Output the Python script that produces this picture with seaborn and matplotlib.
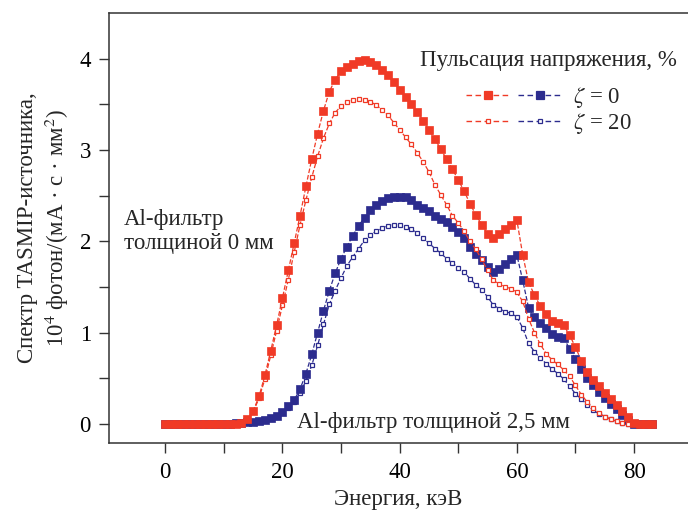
import numpy as np
import pandas as pd
import matplotlib
matplotlib.use("Agg")
import matplotlib.pyplot as plt
import seaborn as sns
from matplotlib.legend_handler import HandlerTuple
from matplotlib.lines import Line2D

energy = list(range(0, 84))

red_zeta0 = [0]*13 + [0.01, 0.05, 0.14, 0.30, 0.53, 0.80, 1.08, 1.38, 1.68, 1.98, 2.28, 2.60, 2.90,
    3.18, 3.43, 3.64, 3.77, 3.86, 3.91, 3.94, 3.97, 3.98, 3.96, 3.93, 3.88, 3.82, 3.74, 3.66, 3.58,
    3.50, 3.42, 3.32, 3.22, 3.12, 3.01, 2.90, 2.79, 2.67, 2.55, 2.41, 2.29, 2.18, 2.08, 2.03, 2.08,
    2.13, 2.18, 2.23, 1.85, 1.55, 1.41, 1.29, 1.20, 1.13, 1.10, 1.08, 0.97, 0.84, 0.69, 0.57, 0.48,
    0.41, 0.34, 0.27, 0.21, 0.14, 0.07, 0.01, 0, 0, 0]

red_zeta20 = [0]*13 + [0.01, 0.04, 0.13, 0.28, 0.49, 0.75, 1.02, 1.30, 1.58, 1.88, 2.18, 2.45, 2.70,
    2.93, 3.13, 3.29, 3.41, 3.48, 3.52, 3.55, 3.56, 3.55, 3.53, 3.49, 3.44, 3.38, 3.30, 3.22, 3.14,
    3.06, 2.97, 2.87, 2.76, 2.62, 2.51, 2.40, 2.28, 2.20, 2.11, 2.00, 1.91, 1.80, 1.68, 1.57, 1.53,
    1.50, 1.48, 1.44, 1.34, 1.15, 1.00, 0.87, 0.77, 0.70, 0.65, 0.59, 0.52, 0.42, 0.32, 0.24, 0.17,
    0.12, 0.08, 0.05, 0.03, 0.01, 0, 0, 0, 0, 0]

blue_zeta0 = [0]*12 + [0.005, 0.01, 0.015, 0.02, 0.03, 0.04, 0.06, 0.09, 0.13, 0.19, 0.26, 0.38,
    0.55, 0.76, 1.00, 1.24, 1.46, 1.65, 1.81, 1.94, 2.06, 2.17, 2.26, 2.34, 2.40, 2.44, 2.47, 2.48,
    2.49, 2.48, 2.45, 2.40, 2.36, 2.33, 2.28, 2.24, 2.21, 2.16, 2.10, 2.03, 1.94, 1.86, 1.79, 1.72,
    1.66, 1.70, 1.75, 1.80, 1.85, 1.57, 1.27, 1.17, 1.10, 1.05, 0.98, 0.95, 0.94, 0.82, 0.71, 0.60,
    0.50, 0.43, 0.35, 0.28, 0.22, 0.16, 0.10, 0.04, 0, 0, 0, 0]

blue_zeta20 = [0]*12 + [0.005, 0.01, 0.015, 0.02, 0.03, 0.04, 0.05, 0.08, 0.12, 0.17, 0.24, 0.34,
    0.47, 0.64, 0.86, 1.09, 1.31, 1.46, 1.60, 1.73, 1.83, 1.92, 2.01, 2.07, 2.11, 2.14, 2.17, 2.18,
    2.18, 2.16, 2.13, 2.09, 2.03, 1.98, 1.92, 1.87, 1.81, 1.76, 1.71, 1.66, 1.59, 1.52, 1.47, 1.39,
    1.30, 1.26, 1.23, 1.21, 1.17, 1.05, 0.88, 0.79, 0.72, 0.66, 0.60, 0.55, 0.49, 0.41, 0.33, 0.27,
    0.21, 0.15, 0.11, 0.08, 0.05, 0.03, 0.01, 0, 0, 0, 0, 0]

x_ticks = [0, 20, 40, 60, 80]
y_ticks = [0, 1, 2, 3, 4]
legend_labels = [r"$\zeta$ = 0", r"$\zeta$ = 20"]

RED = "#f03a26"
BLUE = "#2c2c8e"
FS = 16.5

sns.set_theme(style="ticks")
plt.rcParams["font.family"] = ["Liberation Serif", "DejaVu Serif"]
plt.rcParams["mathtext.fontset"] = "stix"

fig = plt.figure(figsize=(6.88, 5.11), dpi=100)
ax = fig.add_axes([109/688, 1-443/511, 1-109/688, (443-13)/511])

df = pd.DataFrame({"E": energy, "r0": red_zeta0, "r20": red_zeta20,
                   "b0": blue_zeta0, "b20": blue_zeta20})

common = dict(linestyle="--", dashes=(5, 3), linewidth=0.9)
sns.lineplot(data=df, x="E", y="b20", ax=ax, color=BLUE, marker="s", markersize=3.2,
             markerfacecolor="white", markeredgecolor=BLUE, markeredgewidth=0.9, **common)
sns.lineplot(data=df, x="E", y="b0", ax=ax, color=BLUE, marker="s", markersize=5.8,
             markerfacecolor=BLUE, markeredgecolor=BLUE, markeredgewidth=0.5, **common)
sns.lineplot(data=df, x="E", y="r20", ax=ax, color=RED, marker="s", markersize=3.2,
             markerfacecolor="white", markeredgecolor=RED, markeredgewidth=0.9, **common)
sns.lineplot(data=df, x="E", y="r0", ax=ax, color=RED, marker="s", markersize=5.8,
             markerfacecolor=RED, markeredgecolor=RED, markeredgewidth=0.5, **common)

ax.set_xlim(-9.6, 89.2)
ax.set_ylim(-0.21, 4.5)
ax.set_xticks(x_ticks)
ax.set_xticks(list(range(0, 90, 10)), minor=True)
ax.set_yticks(y_ticks)
ax.set_yticks([0.5, 1.5, 2.5, 3.5], minor=True)
ax.tick_params(which="both", direction="out", length=7, width=1.0, color="#333333",
               labelsize=FS, labelcolor="black")
ax.tick_params(axis="x", pad=7)
ax.tick_params(axis="y", pad=6)
for s in ["left", "bottom", "top"]:
    ax.spines[s].set_color("#333333")
    ax.spines[s].set_linewidth(1.1)
ax.spines["right"].set_visible(False)

ax.set_xlabel("Энергия, кэВ", fontsize=FS, labelpad=4)
ax.set_ylabel("Спектр TASMIP-источника,\n10$^4$ фотон/(мА · с · мм$^2$)", fontsize=FS,
              labelpad=6, linespacing=1.25)

ax.text(-7.0, 2.35, "Al-фильтр\nтолщиной 0 мм", fontsize=FS, ha="left", va="top",
        linespacing=1.2)
ax.text(22.5, 0.02, "Al-фильтр толщиной 2,5 мм", fontsize=FS, ha="left", va="center")

def proxy(color, ms, fc):
    return Line2D([], [], color=color, linestyle="--", dashes=(4, 2.5), linewidth=1.0,
                  marker="s", markersize=ms, markerfacecolor=fc, markeredgecolor=color,
                  markeredgewidth=0.9)

h0 = (proxy(RED, 5.8, RED), proxy(BLUE, 5.8, BLUE))
h20 = (proxy(RED, 3.2, "white"), proxy(BLUE, 3.2, "white"))
leg = ax.legend([h0, h20], legend_labels, handler_map={tuple: HandlerTuple(ndivide=None, pad=0.35)},
                title="Пульсация напряжения, %", frameon=False, loc="upper right",
                bbox_to_anchor=(1.005, 0.945), fontsize=FS, title_fontsize=FS,
                handlelength=4.2, numpoints=1, handletextpad=0.5, labelspacing=0.05,
                borderaxespad=0.2)
leg._legend_box.sep = 10

fig.savefig("out.png", dpi=100)
